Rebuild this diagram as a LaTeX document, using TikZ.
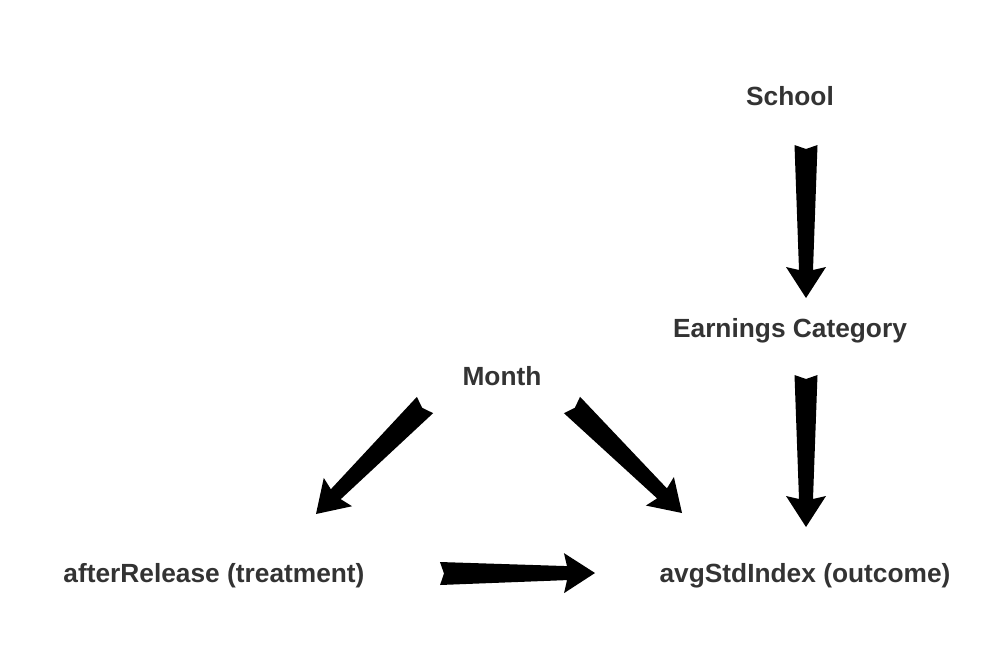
\documentclass[tikz,border=0pt]{standalone}
\usepackage{fontspec}
\setmainfont{Liberation Sans}
\usetikzlibrary{calc}
\definecolor{txt}{HTML}{333333}
\newcommand{\fatarrow}[2]{%
  \coordinate (faj) at ($(#2)!28pt!(#1)$);
  \coordinate (fab) at ($(#2)!31pt!(#1)$);
  \fill[black]
    ($(#1)!11.5pt!90:(#2)$) -- ($(#1)!4pt!(#2)$) -- ($(#1)!11.5pt!-90:(#2)$)
    -- ($(faj)!7pt!-90:(#2)$) -- ($(fab)!20pt!-90:(#2)$) -- (#2)
    -- ($(fab)!20pt!90:(#2)$) -- ($(faj)!7pt!90:(#2)$) -- cycle;
}
\begin{document}
\begin{tikzpicture}[x=1pt,y=-1pt,
  lbl/.style={font=\fontsize{26.3}{31}\selectfont\bfseries, text=txt, inner sep=0pt}]
\useasboundingbox (0,0) rectangle (998,646);
\node[lbl] (school) at (790,96.5) {School};
\node[lbl] (earn) at (790,330.5) {Earnings Category};
\node[lbl] (month) at (502,376.5) {Month};
\node[lbl] (after) at (214,575.5) {afterRelease (treatment)};
\node[lbl] (avg) at (805,575.5) {avgStdIndex (outcome)};
\coordinate (a1s) at ($(school)+(16,48.5)$);
\coordinate (a1e) at ($(earn)+(16,-32.5)$);
\coordinate (a2s) at ($(earn)+(16,44.5)$);
\coordinate (a2e) at ($(avg)+(1,-48.5)$);
\coordinate (a3s) at ($(month)+(-77,28.5)$);
\coordinate (a3e) at ($(after)+(102,-61.5)$);
\coordinate (a4s) at ($(month)+(70,28.5)$);
\coordinate (a4e) at ($(avg)+(-123,-62.5)$);
\coordinate (a5s) at ($(after)+(226,-2)$);
\coordinate (a5e) at ($(avg)+(-210,-2.5)$);
\fatarrow{a1s}{a1e}
\fatarrow{a2s}{a2e}
\fatarrow{a3s}{a3e}
\fatarrow{a4s}{a4e}
\fatarrow{a5s}{a5e}
\end{tikzpicture}
\end{document}
